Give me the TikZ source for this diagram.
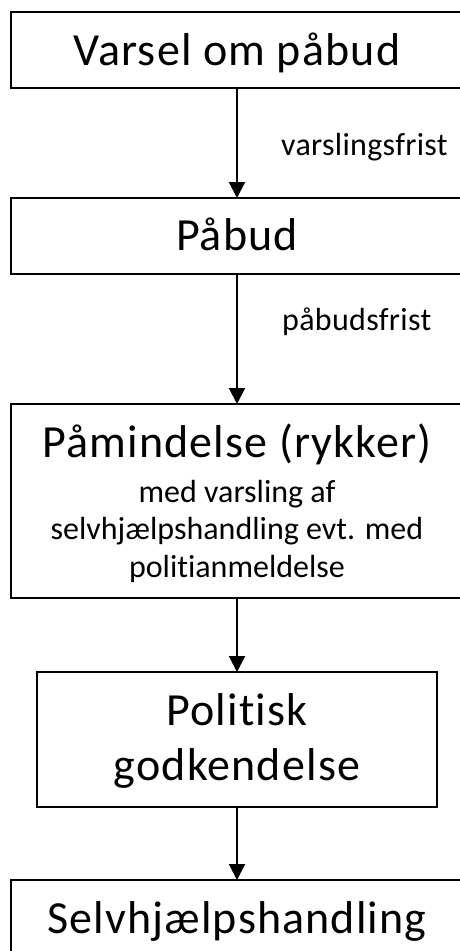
\documentclass[tikz,border=0pt]{standalone}
\usepackage{fontspec}
\setmainfont{Carlito}[Ligatures=NoCommon]
\usetikzlibrary{arrows.meta}
\tikzset{
  box/.style={draw=black, line width=2pt, rectangle, inner sep=0pt, outer sep=0pt},
  big/.style={anchor=base, inner sep=0pt, font=\fontsize{46}{55}\selectfont\addfontfeatures{LetterSpace=2.5}},
  small/.style={anchor=base, inner sep=0pt, font=\fontsize{32}{38}\selectfont},
  lab/.style={anchor=base west, inner sep=0pt, font=\fontsize{32}{38}\selectfont\addfontfeatures{LetterSpace=1}},
  conn/.style={line width=2pt, -{Triangle[length=16pt,width=16pt]}}
}
\begin{document}
\begin{tikzpicture}[x=1pt,y=-1pt]
\useasboundingbox[fill=white] (0,0) rectangle (460,951);
\node[box, minimum width=452pt, minimum height=76pt] (b1) at (237,50) {};
\node[box, minimum width=452pt, minimum height=76pt] (b2) at (237,236) {};
\node[box, minimum width=452pt, minimum height=194pt] (b3) at (237,501) {};
\node[box, minimum width=400pt, minimum height=135pt] (b4) at (237,739.5) {};
\node[box, minimum width=452pt, minimum height=84pt] (b5) at (237,922) {};

\node[big] (t1) at (237,65) {Varsel om påbud};
\node[big] (t2) at (237,250) {Påbud};
\node[big] (t3) at (237,457) {Påmindelse (rykker)};
\node[small] (t3a) at (237,502) {med varsling af};
\node[small] (t3b) at (237,539) {selvhjælpshandling evt. med};
\node[small] (t3c) at (237,577) {politianmeldelse};
\node[big] (t4a) at (237,725) {Politisk};
\node[big] (t4b) at (237,780) {godkendelse};
\node[big] (t5) at (237,933) {Selvhjælpshandling};

\node[lab] (l1) at (281,155) {varslingsfrist};
\node[lab] (l2) at (282,330) {påbudsfrist};

\draw[conn] (b1.south) -- (b2.north);
\draw[conn] (b2.south) -- (b3.north);
\draw[conn] (b3.south) -- (b4.north);
\draw[conn] (b4.south) -- (b5.north);
\end{tikzpicture}
\end{document}
